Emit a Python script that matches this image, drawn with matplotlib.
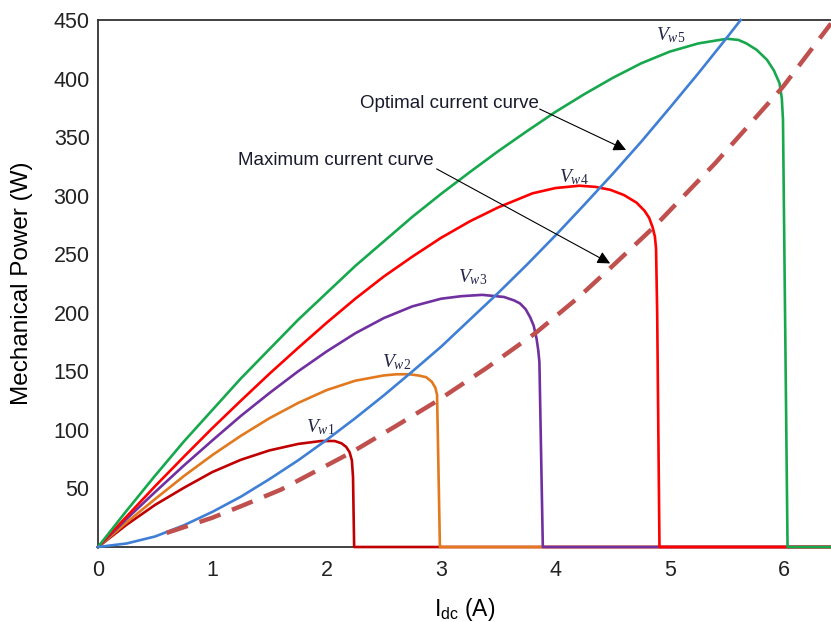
import matplotlib
matplotlib.use('Agg')
import matplotlib.pyplot as plt

plt.rcParams['font.family'] = ['Liberation Sans', 'DejaVu Sans']
plt.rcParams['mathtext.fontset'] = 'custom'
plt.rcParams['mathtext.rm'] = 'Liberation Serif'
plt.rcParams['mathtext.it'] = 'Liberation Serif:italic'
plt.rcParams['mathtext.sf'] = 'Liberation Sans'

# power curves for each wind speed (current in A, power in W)
vw1_i = [0, 0.25, 0.5, 0.75, 1.0, 1.25, 1.5, 1.75, 1.95, 2.07, 2.13, 2.17, 2.2, 2.22, 2.23, 2.24, 6.41]
vw1_p = [0, 19, 36, 50.5, 64, 74.5, 82.5, 88, 90.5, 90.5, 88.5, 85.5, 81, 74, 60, 0, 0]

vw2_i = [0, 0.25, 0.5, 0.75, 1.0, 1.25, 1.5, 1.75, 2.0, 2.25, 2.5, 2.61, 2.72, 2.8, 2.87, 2.92, 2.95, 2.965, 2.99, 6.41]
vw2_p = [0, 21, 41, 60.5, 78.5, 95, 110, 123, 134, 142, 146.5, 147.5, 147.5, 146.5, 145, 141, 136, 130, 0, 0]

vw3_i = [0, 0.25, 0.5, 0.75, 1.0, 1.25, 1.5, 1.75, 2.0, 2.25, 2.5, 2.75, 3.0, 3.18, 3.36, 3.55, 3.64,
         3.69, 3.74, 3.78, 3.81, 3.835, 3.85, 3.86, 3.89, 6.41]
vw3_p = [0, 24, 47, 69.5, 91, 112, 131.5, 150, 167, 182.5, 195.5, 205.5, 212, 214.2, 215.3, 213.5, 210.5,
         208, 203, 196, 189, 178, 168, 158, 0, 0]

vw4_i = [0, 0.25, 0.5, 0.75, 1.0, 1.25, 1.5, 1.75, 2.0, 2.25, 2.5, 2.75, 3.0, 3.25, 3.5, 3.65, 3.8, 4.0,
         4.21, 4.35, 4.48, 4.6, 4.71, 4.78, 4.82, 4.85, 4.87, 4.88, 4.89, 4.91, 6.41]
vw4_p = [0, 26, 52, 77, 101.5, 125, 148, 170, 191.5, 212, 231, 248, 264, 278, 290, 296, 302, 306.5,
         308.5, 307.5, 305, 300.5, 294, 287, 281, 273, 265, 255, 200, 0, 0]

vw5_i = [0, 0.25, 0.5, 0.75, 1.0, 1.25, 1.5, 1.75, 2.0, 2.25, 2.5, 2.75, 3.0, 3.25, 3.5, 3.75, 4.0, 4.25,
         4.5, 4.75, 5.0, 5.25, 5.5, 5.6, 5.67, 5.76, 5.85, 5.91, 5.96, 5.98, 5.99, 6.03, 6.41]
vw5_p = [0, 31, 61, 90, 117, 144, 169, 194, 217, 240, 261, 282, 301.5, 320, 338, 355, 371.5, 386.5,
         400.5, 413, 423, 430, 434, 433, 430, 424.5, 416, 407, 396, 383, 365, 0, 0]

# optimal current curve
opt_i = [0, 0.25, 0.5, 0.75, 1.0, 1.25, 1.5, 1.75, 2.0, 2.25, 2.5, 2.75, 3.0, 3.25, 3.5, 3.75, 4.0, 4.25,
         4.5, 4.75, 5.0, 5.25, 5.5, 5.62]
opt_p = [0, 3, 9, 18.5, 30, 43, 58, 74, 91.5, 110, 129.5, 150, 171, 194, 217, 241, 266, 292,
         318.5, 346, 375, 404.5, 435, 450]

# maximum current curve
max_i = [0.6, 1.0, 1.28, 1.6, 2.22, 2.6, 2.97, 3.4, 3.83, 4.2, 4.5, 4.87, 5.4, 5.99, 6.41]
max_p = [12, 25, 36, 49, 81, 103, 125, 153, 183, 213, 240, 274, 328, 393, 447]

curves = [
    (vw1_i, vw1_p, '#C00000', r'$V_{w1}$', (1.82, 102)),
    (vw2_i, vw2_p, '#E3791E', r'$V_{w2}$', (2.48, 158)),
    (vw3_i, vw3_p, '#7030A0', r'$V_{w3}$', (3.15, 230)),
    (vw4_i, vw4_p, '#FF0000', r'$V_{w4}$', (4.03, 316)),
    (vw5_i, vw5_p, '#17A84E', r'$V_{w5}$', (4.88, 437)),
]

fig = plt.figure(figsize=(8.31, 6.22), dpi=100)
ax = fig.add_axes([98/831, 75/622, 733/831, 527/622])

for xs, ps, col, lab, pos in curves:
    ax.plot(xs, ps, color=col, lw=1.9, clip_on=False, solid_joinstyle='round', zorder=3)
    ax.text(pos[0], pos[1], lab, fontsize=14, color='#26264a', va='center', ha='left')

ax.plot(opt_i, opt_p, color='#3F7FD6', lw=1.9, clip_on=False, zorder=4)
ax.plot(max_i, max_p, color='#C0504D', lw=3.2, dashes=(5, 2.8), clip_on=False, zorder=5)

ax.text(2.29, 379, 'Optimal current curve', fontsize=13.5, va='center', ha='left', color='#1a1a2e')
ax.text(1.22, 330, 'Maximum current curve', fontsize=13.5, va='center', ha='left', color='#1a1a2e')
ax.annotate('', xy=(4.64, 338), xytext=(3.84, 375),
            arrowprops=dict(arrowstyle='-|>', color='black', lw=0.8, mutation_scale=19), zorder=6)
ax.annotate('', xy=(4.50, 241), xytext=(2.94, 324),
            arrowprops=dict(arrowstyle='-|>', color='black', lw=0.8, mutation_scale=19), zorder=6)

ax.set_xlim(0, 6.41)
ax.set_ylim(0, 450)
ax.set_xticks([0, 1, 2, 3, 4, 5, 6])
ax.set_yticks([50, 100, 150, 200, 250, 300, 350, 400, 450])
ax.tick_params(axis='both', length=0, labelsize=15.5, colors='#222222')
ax.tick_params(axis='x', pad=9)
ax.tick_params(axis='y', pad=6)

ax.spines['right'].set_visible(False)
for s in ['left', 'top', 'bottom']:
    ax.spines[s].set_linewidth(1.3)
    ax.spines[s].set_color('#333333')

ax.set_ylabel('Mechanical Power (W)', fontsize=17.5)
ax.set_xlabel(r'I$_{\mathsf{dc}}$ (A)', fontsize=16.5)
ax.yaxis.set_label_coords(-0.089, 0.5)
ax.xaxis.set_label_coords(0.5, -0.093)

fig.savefig('out.png', dpi=100)
